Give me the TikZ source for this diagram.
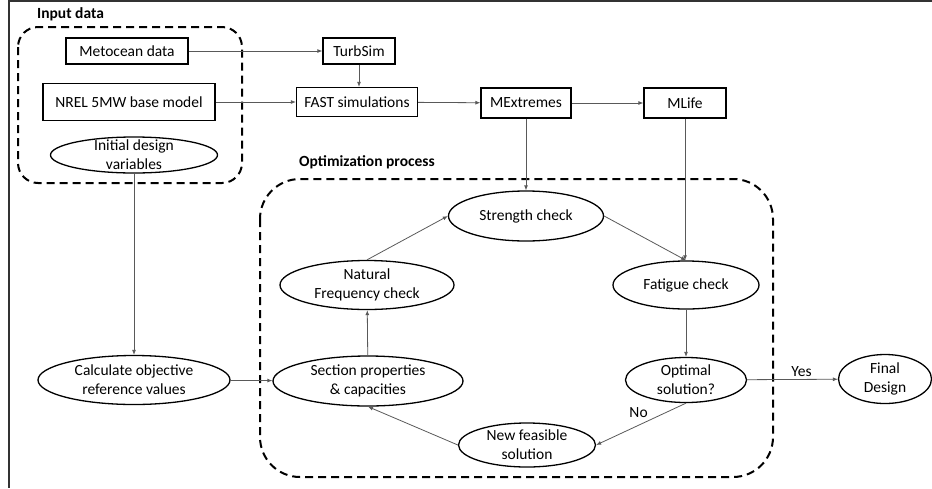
\documentclass[tikz,border=0pt]{standalone}
\usepackage{fontspec}
\setmainfont{Carlito}
\usepackage{tikz}
\usetikzlibrary{shapes,arrows.meta,positioning}
\tikzset{
    >={Latex[length=5pt,width=4pt]},auto,semithick,
    box/.style ={rectangle, draw, line width=1.3pt, inner sep=0pt},
    state/.style ={ellipse, draw, line width=1.3pt, inner xsep=0pt, inner ysep=-10pt, align=center},
    group/.style={draw, line width=2pt, dash pattern=on 8pt off 5pt},
    flow/.style={->, black!65, line width=0.8pt},
    title/.style={font=\fontsize{15.5}{19}\selectfont\bfseries, anchor=west, inner sep=0pt},
    el/.style = {inner sep=2pt, text=black}
}
\begin{document}
\begin{tikzpicture}[x=1pt,y=-1pt,font=\fontsize{15.5}{19}\selectfont]
    \useasboundingbox (0,0) rectangle (932,488);
    \draw[line width=1.3pt, black!80] (932,1) -- (9,1) -- (9,488);

    % input data
    \draw[group, rounded corners=20pt] (18,27) rectangle (242,183);
    \node[title] (inlab) at (37,14) {Input data};
    \node[box, minimum width=122pt, minimum height=26pt] (meto) at (127,51) {Metocean data};
    \node[box, minimum width=172pt, minimum height=37pt] (nrel) at (129,102) {NREL 5MW base model};
    \node[state, minimum width=167pt, minimum height=36pt] (init) at (134,155) {Initial design\\variables};

    % tools
    \node[box, minimum width=72pt, minimum height=26pt] (turb) at (359,51) {TurbSim};
    \node[box, minimum width=121pt, minimum height=29pt] (fast) at (357,102) {FAST simulations};
    \node[box, minimum width=90pt, minimum height=30pt] (mext) at (526,103) {MExtremes};
    \node[box, minimum width=82pt, minimum height=30pt] (mlife) at (685,103) {MLife};

    \node[state, minimum width=192pt, minimum height=49pt] (calc) at (134,380) {Calculate objective\\reference values};

    % optimization process
    \draw[group, rounded corners=40pt] (260,179) rectangle (773,477);
    \node[title] (oplab) at (299,162) {Optimization process};
    \node[state, minimum width=155pt, minimum height=50pt] (stren) at (526,216) {Strength check};
    \node[state, minimum width=174pt, minimum height=49pt] (natf) at (367,285) {Natural\\Frequency check};
    \node[state, minimum width=146pt, minimum height=48pt] (fati) at (686,285) {Fatigue check};
    \node[state, minimum width=190pt, minimum height=50pt] (sect) at (368,381) {Section properties\\\& capacities};
    \node[state, minimum width=121pt, minimum height=45pt] (opti) at (686,380) {Optimal\\solution?};
    \node[state, minimum width=137pt, minimum height=44pt] (newf) at (527,445) {New feasible\\solution};
    \node[state, minimum width=93pt, minimum height=49pt] (final) at (885,379) {Final\\Design};

    \path[flow] (meto) edge (turb);
    \path[flow] (turb.south) edge (turb.south |- fast.north);
    \path[flow] (nrel) edge (fast);
    \path[flow] (fast) edge (mext);
    \path[flow] (mext) edge (mlife);
    \path[flow] (mext) edge (stren);
    \path[flow] (mlife.south) edge (mlife.south |- fati.north);
    \path[flow] (init) edge (calc);
    \path[flow] (calc) edge (sect);
    \path[flow] (sect) edge (natf);
    \path[flow] (natf.north) edge (stren.west);
    \path[flow] (stren.east) edge (fati.north);
    \path[flow] (fati) edge (opti);
    \path[flow] (opti) edge node[el, above, pos=0.6] {Yes} (final);
    \path[flow] (opti.south) edge node[el, above left, pos=0.4] {No} (newf.east);
    \path[flow] (newf.west) edge (sect.south);
\end{tikzpicture}
\end{document}
